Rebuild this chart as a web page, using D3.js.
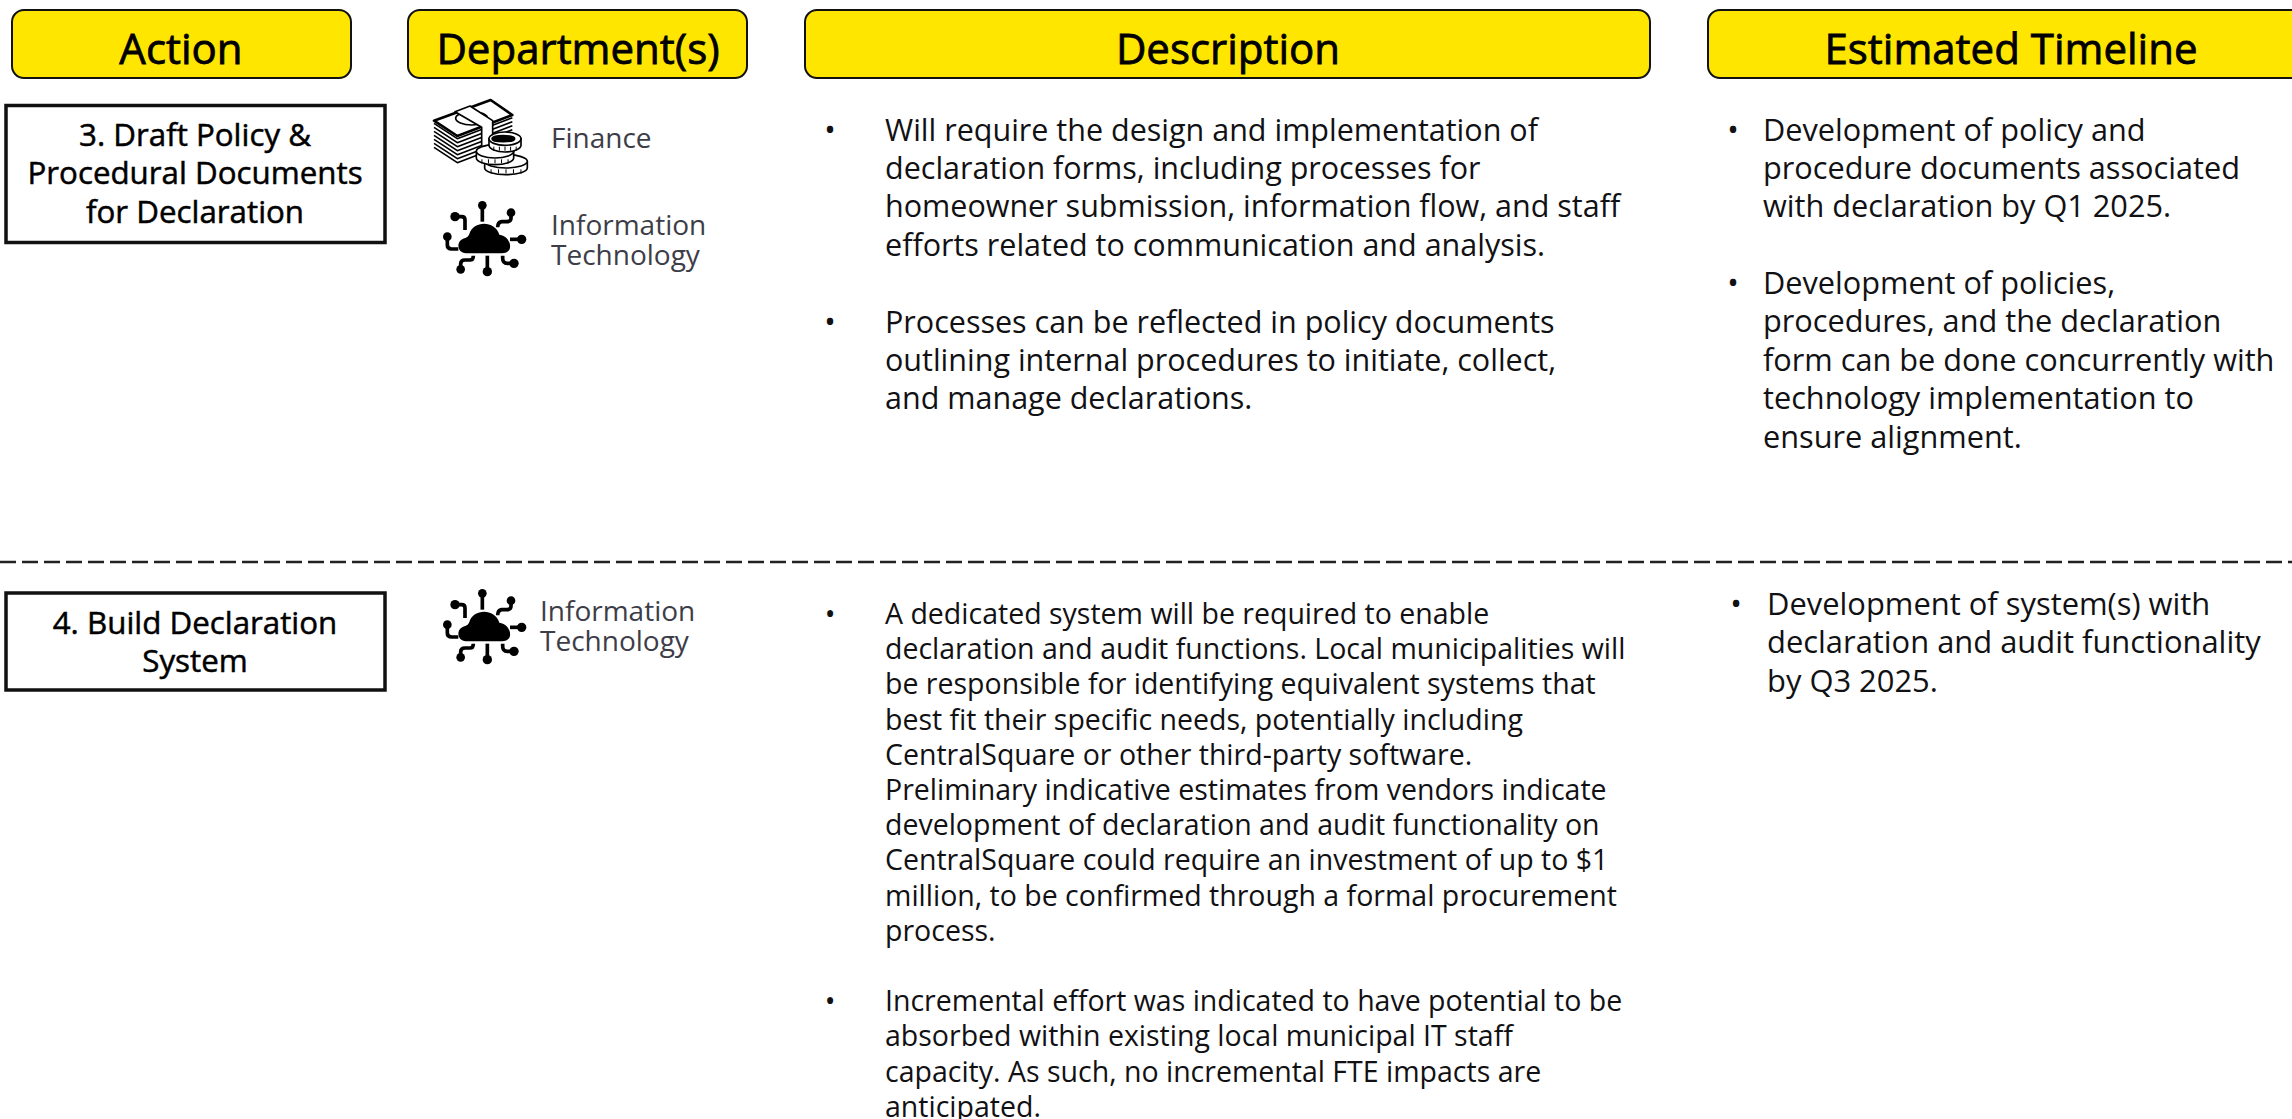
<!DOCTYPE html>
<html>
<head>
<meta charset="utf-8">
<script src="https://cdn.jsdelivr.net/npm/d3@7"></script>
<style>
  html, body { margin: 0; background: #fff; overflow: hidden; }
  svg { display: block; }
  text { font-family: "Open Sans", sans-serif; }
</style>
</head>
<body>
<svg id="chart" width="2292" height="1119"></svg>
<script>
// ── Text content ──────────────────────────────────────────────────────────────
const headers = ['Action', 'Department(s)', 'Description', 'Estimated Timeline'];

const actionThree = ['3. Draft Policy &', 'Procedural Documents', 'for Declaration'];
const actionFour  = ['4. Build Declaration', 'System'];

const deptFinance = ['Finance'];
const deptIT      = ['Information', 'Technology'];

const descThree = [
  ['Will require the design and implementation of',
   'declaration forms, including processes for',
   'homeowner submission, information flow, and staff',
   'efforts related to communication and analysis.'],
  ['Processes can be reflected in policy documents',
   'outlining internal procedures to initiate, collect,',
   'and manage declarations.']
];
const descFour = [
  ['A dedicated system will be required to enable',
   'declaration and audit functions. Local municipalities will',
   'be responsible for identifying equivalent systems that',
   'best fit their specific needs, potentially including',
   'CentralSquare or other third-party software.',
   'Preliminary indicative estimates from vendors indicate',
   'development of declaration and audit functionality on',
   'CentralSquare could require an investment of up to $1',
   'million, to be confirmed through a formal procurement',
   'process.'],
  ['Incremental effort was indicated to have potential to be',
   'absorbed within existing local municipal IT staff',
   'capacity. As such, no incremental FTE impacts are',
   'anticipated.']
];
const timeThree = [
  ['Development of policy and',
   'procedure documents associated',
   'with declaration by Q1 2025.'],
  ['Development of policies,',
   'procedures, and the declaration',
   'form can be done concurrently with',
   'technology implementation to',
   'ensure alignment.']
];
const timeFour = [
  ['Development of system(s) with',
   'declaration and audit functionality',
   'by Q3 2025.']
];

// ── Layout ────────────────────────────────────────────────────────────────────
const svg = d3.select('#chart');
const INK = '#111114';
const headerBoxes = [[12, 351], [408, 747], [805, 1650], [1708, 2310]];
const headerCentres = [181, 578, 1228, 2011];

function textLines(lines, x, y, lh, o) {
  const g = svg.append('g').attr('transform', `translate(${x},${y})`);
  g.selectAll('text').data(lines).join('text')
    .attr('y', (d, i) => i * lh)
    .attr('text-anchor', o.anchor || 'start')
    .attr('font-size', o.size)
    .attr('fill', o.fill || INK)
    // a thin outline stands in for the medium weight of the original face
    .attr('stroke', o.outline ? o.fill : 'none')
    .attr('stroke-width', o.outline || 0)
    .text(d => d);
}

function bulleted(paras, bx, tx, y, lh, size) {
  let row = 0;
  paras.forEach(lines => {
    svg.append('text').attr('x', bx).attr('y', y + row * lh)
      .attr('text-anchor', 'middle')
      .attr('font-size', size).attr('fill', INK).text('•');
    textLines(lines, tx, y + row * lh, lh, { size });
    row += lines.length + 1;
  });
}

// ── Header pills ──────────────────────────────────────────────────────────────
svg.selectAll('rect.head').data(headerBoxes).join('rect')
  .attr('class', 'head')
  .attr('x', d => d[0]).attr('y', 10)
  .attr('width', d => d[1] - d[0]).attr('height', 68)
  .attr('rx', 12)
  .attr('fill', '#ffe600').attr('stroke', '#111').attr('stroke-width', 2);

headers.forEach((h, i) => {
  textLines([h], headerCentres[i], 64, 0, { size: 42, outline: 0.8, anchor: 'middle', fill: '#000' });
});

// ── Action boxes ──────────────────────────────────────────────────────────────
[[105.5, 137, actionThree, 146], [593, 97, actionFour, 634]].forEach(([y, h, lines, base]) => {
  svg.append('rect').attr('x', 6).attr('y', y).attr('width', 379).attr('height', h)
    .attr('fill', '#fff').attr('stroke', '#111').attr('stroke-width', 3.5);
  textLines(lines, 195, base, 38.4, { size: 31.3, outline: 0.5, anchor: 'middle', fill: '#000' });
});

// ── Divider ───────────────────────────────────────────────────────────────────
svg.append('line').attr('x1', 0).attr('x2', 2292).attr('y1', 562).attr('y2', 562)
  .attr('stroke', '#222').attr('stroke-width', 2.5).attr('stroke-dasharray', '16 6');

// ── Department labels ─────────────────────────────────────────────────────────
const DEPT = '#3d3d48';
textLines(deptFinance, 551, 148, 0, { size: 28, fill: DEPT });
textLines(deptIT, 551, 235, 29.5, { size: 28, fill: DEPT });
textLines(deptIT, 540, 621, 29.5, { size: 28, fill: DEPT });

// ── Icons ─────────────────────────────────────────────────────────────────────
const nodes = [
  [187, 346, 13], [105, 380, 14], [82, 440, 13], [273, 368, 13],
  [305, 448, 14], [202, 545, 14], [122, 538, 13], [282, 520, 14]
];
const traces = [
  'M187 346V395', 'M105 380H125Q135 380 135 390V420', 'M82 440V465Q82 477 95 477H115',
  'M273 368V385Q273 395 260 395H245Q233 397 233 412', 'M270 448H305', 'M202 497V545',
  'M122 538V522Q122 510 135 510H150Q160 510 160 497', 'M282 520H262Q248 520 248 505V497'
];
function cloudIcon(x, y) {
  const g = svg.append('g').attr('transform', `translate(${x},${y}) scale(${1 / 3})`);
  g.append('path').attr('fill', '#000')
    .attr('d', 'M138 490C110 490 106 450 136 444C142 442 146 438 148 432C160 392 224 390 238 434C274 438 284 490 247 490Z');
  g.selectAll('path.t').data(traces).join('path').attr('class', 't')
    .attr('d', d => d).attr('fill', 'none').attr('stroke', '#000').attr('stroke-width', 11);
  g.selectAll('circle').data(nodes).join('circle')
    .attr('cx', d => d[0]).attr('cy', d => d[1]).attr('r', d => d[2]).attr('fill', '#000');
}
cloudIcon(420, 90);
cloudIcon(420, 478);

function moneyIcon(x, y) {
  const g = svg.append('g').attr('transform', `translate(${x},${y}) scale(${1 / 3})`)
    .attr('stroke', '#000').attr('fill', '#fff').attr('stroke-width', 5).attr('stroke-linejoin', 'round');
  // stack edges
  d3.range(7).forEach(i => {
    const dy = 8 + i * 12;
    g.append('path').attr('fill', 'none').attr('d',
      `M42 ${92 + dy}L112 ${138 + dy}L277 ${75 + dy}`);
  });
  g.append('path').attr('stroke-width', 8)
    .attr('d', 'M42 92L212 30L277 75L112 138Z');
  g.append('ellipse').attr('cx', 155).attr('cy', 85).attr('rx', 48).attr('ry', 20).attr('fill', 'none');
  // paper band
  g.append('path').attr('d', 'M105 65L150 48L218 92L218 165L185 175L185 112Z');
  // coins
  [[258, 226, 64], [225, 196, 56], [255, 158, 48]].forEach(([cx, cy, rx]) => {
    g.append('path').attr('stroke-width', 5)
      .attr('d', `M${cx - rx} ${cy - 12}V${cy + 8}A${rx} 20 0 0 0 ${cx + rx} ${cy + 8}V${cy - 12}Z`);
    g.append('ellipse').attr('cx', cx).attr('cy', cy - 12).attr('rx', rx).attr('ry', 20).attr('stroke-width', 5);
    d3.range(-2, 3).forEach(k => {
      g.append('line').attr('x1', cx + k * rx * 0.35).attr('x2', cx + k * rx * 0.35)
        .attr('y1', cy + 12).attr('y2', cy + 24).attr('stroke-width', 3);
    });
  });
  g.append('ellipse').attr('cx', 250).attr('cy', 146).attr('rx', 34).attr('ry', 9).attr('fill', '#000');
}
moneyIcon(420, 90);

// ── Body text ─────────────────────────────────────────────────────────────────
bulleted(descThree, 830, 885, 140.5, 38.4, 30.5);
bulleted(descFour, 830, 885, 624, 35.2, 28.5);
bulleted(timeThree, 1733, 1763, 140.5, 38.4, 30.7);
bulleted(timeFour, 1736, 1767, 615, 38.4, 30.9);
</script>
</body>
</html>
